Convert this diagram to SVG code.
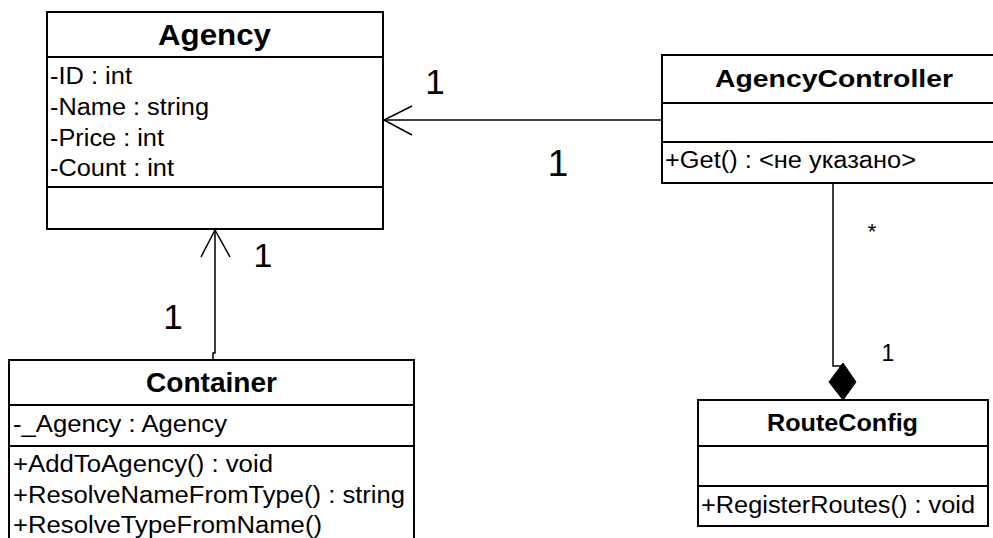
<svg xmlns="http://www.w3.org/2000/svg" width="993" height="538" viewBox="0 0 993 538">
<style>
.box{fill:#fff;stroke:#000;stroke-width:2}
.sep{stroke:#000;stroke-width:2}
text{font-family:'Liberation Sans',Arial,Helvetica,sans-serif}
.t{font-size:23px;fill:#000}
.b{font-weight:bold;fill:#000}
.lbl{fill:#000;text-anchor:middle}
.c{fill:none;stroke:#000;stroke-width:1.5}
</style>
<rect width="993" height="538" fill="#fff"/>
<g id="connectors">
<path class="c" d="M662,120 H384"/>
<path class="c" d="M412,106 L384,120 L412,135"/>
<path class="c" d="M213,360 V353 H215 V230"/>
<path class="c" d="M201,257 L215,230 L230,257"/>
<path class="c" d="M833,183 V366 H843"/>
<path d="M843,363 L856,382 L843,400 L829,382 Z" fill="#000" stroke="#000" stroke-width="1"/>
<text class="lbl" x="435" y="94" font-size="35">1</text>
<text class="lbl" x="558" y="176" font-size="37">1</text>
<text class="lbl" x="263" y="267" font-size="34">1</text>
<text class="lbl" x="173" y="329" font-size="35">1</text>
<text class="lbl" x="872" y="239" font-size="22">*</text>
<text class="lbl" x="888" y="361" font-size="23">1</text>
</g>
<g id="agency">
<rect class="box" x="47" y="12" width="336" height="217"/>
<line class="sep" x1="47" y1="57" x2="383" y2="57"/>
<line class="sep" x1="47" y1="187" x2="383" y2="187"/>
<text class="b" x="158" y="45" font-size="29" textLength="113" lengthAdjust="spacingAndGlyphs">Agency</text>
<text class="t" x="50" y="84" textLength="82" lengthAdjust="spacingAndGlyphs">-ID : int</text>
<text class="t" x="50" y="115" textLength="159" lengthAdjust="spacingAndGlyphs">-Name : string</text>
<text class="t" x="50" y="146" textLength="114" lengthAdjust="spacingAndGlyphs">-Price : int</text>
<text class="t" x="50" y="176" textLength="124" lengthAdjust="spacingAndGlyphs">-Count : int</text>
</g>
<g id="agencycontroller">
<rect class="box" x="662" y="55" width="344" height="128"/>
<line class="sep" x1="662" y1="103" x2="1006" y2="103"/>
<line class="sep" x1="662" y1="142" x2="1006" y2="142"/>
<text class="b" x="715" y="87" font-size="24" textLength="238" lengthAdjust="spacingAndGlyphs">AgencyController</text>
<text class="t" x="665" y="168" textLength="251" lengthAdjust="spacingAndGlyphs">+Get() : &lt;не указано&gt;</text>
</g>
<g id="container">
<rect class="box" x="9" y="360" width="405" height="190"/>
<line class="sep" x1="9" y1="405" x2="414" y2="405"/>
<line class="sep" x1="9" y1="446" x2="414" y2="446"/>
<text class="b" x="146" y="392" font-size="28" textLength="131" lengthAdjust="spacingAndGlyphs">Container</text>
<text class="t" x="13" y="432" textLength="214" lengthAdjust="spacingAndGlyphs">-_Agency : Agency</text>
<text class="t" x="13" y="472" textLength="260" lengthAdjust="spacingAndGlyphs">+AddToAgency() : void</text>
<text class="t" x="13" y="503" textLength="392" lengthAdjust="spacingAndGlyphs">+ResolveNameFromType() : string</text>
<text class="t" x="13" y="533" textLength="309" lengthAdjust="spacingAndGlyphs">+ResolveTypeFromName()</text>
</g>
<g id="routeconfig">
<rect class="box" x="698" y="400" width="290" height="126"/>
<line class="sep" x1="698" y1="446" x2="988" y2="446"/>
<line class="sep" x1="698" y1="486" x2="988" y2="486"/>
<text class="b" x="767" y="431" font-size="24" textLength="151" lengthAdjust="spacingAndGlyphs">RouteConfig</text>
<text class="t" x="701" y="513" textLength="274" lengthAdjust="spacingAndGlyphs">+RegisterRoutes() : void</text>
</g>
</svg>
